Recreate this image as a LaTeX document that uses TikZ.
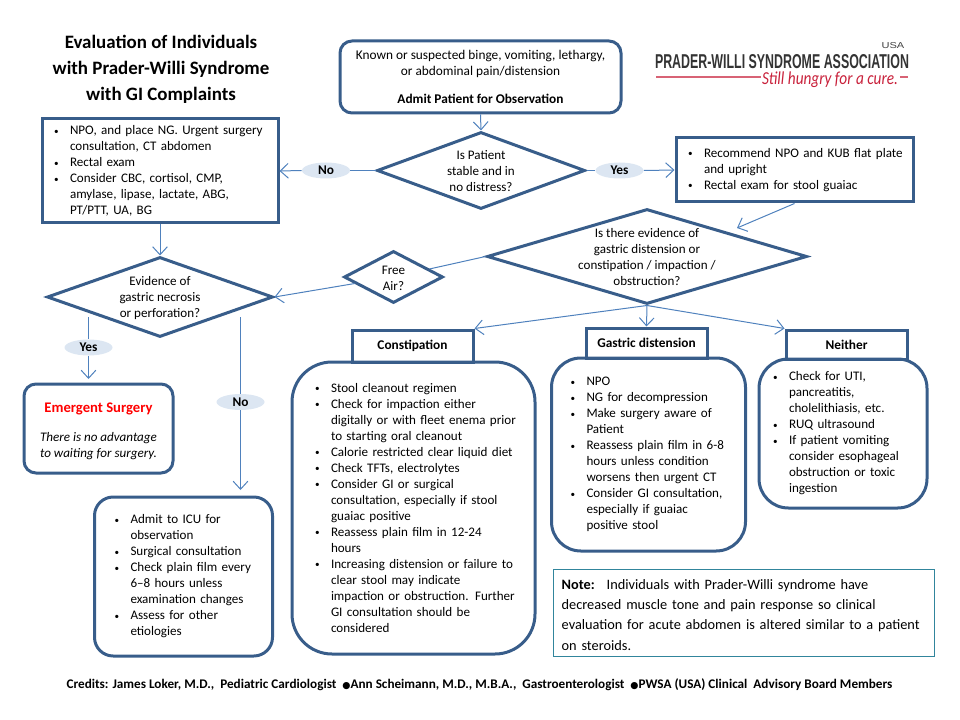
\documentclass[tikz,border=0pt]{standalone}
\usepackage{fontspec}
\usepackage{graphicx}
\setmainfont{Carlito}
\newfontfamily\logofont{Liberation Sans}
\newfontfamily\dotfont{DejaVu Sans}
\usetikzlibrary{arrows.meta,shapes.geometric}
\definecolor{boxblue}{HTML}{385D8A}
\definecolor{linkblue}{HTML}{4F81BD}
\definecolor{pillblue}{HTML}{DCE6F2}
\definecolor{noteblue}{HTML}{31859C}
\definecolor{logored}{HTML}{C8203A}
\newcommand{\itm}[1]{\mbox{\makebox[12pt][l]{\raisebox{0.4pt}{\scalebox{0.7}{\textbullet}}}#1}}
\newcommand{\cnt}[1]{\mbox{\hspace*{12pt}#1}}
\tikzset{
	txt/.style={font=\fontsize{9.8}{12}\selectfont, inner sep=0pt, align=center},
	dmdtxt/.style={txt, yshift=-0.75pt},
	flat/.style={txt, draw=boxblue, line width=2.25pt, align=left},
	round/.style={flat, rounded corners=#1},
	head/.style={flat, align=center, font=\fontsize{10}{12}\selectfont\bfseries},
	dmd/.style={draw=boxblue, line width=2.25pt, shape=diamond, inner sep=0pt, aspect=1},
	pill/.style={ellipse, fill=pillblue, inner sep=0pt, minimum width=36pt, minimum height=12pt, font=\fontsize{10}{12}\selectfont\bfseries},
	link/.style={draw=linkblue, line width=0.75pt},
	arrow/.style={link, -{Straight Barb[length=6pt,width=11pt,line width=0.75pt]}}
}

\begin{document}
\begin{tikzpicture}[x=0.75pt, y=-0.75pt]
	%%%%% START %%%%%
	\useasboundingbox (0, 0) rectangle (960, 720);

	\node[txt, font=\fontsize{14.2}{19.5}\selectfont\bfseries] (title) at (161, 69.5) {Evaluation of Individuals\\with Prader-Willi Syndrome\\with GI Complaints};

	% logo
	\node[inner sep=0pt, text=black!75] (logousa) at (893, 46) {\resizebox{17pt}{4.5pt}{\logofont USA}};
	\node[inner sep=0pt, text=black!80] (logoname) at (782, 62) {\resizebox{190.5pt}{10.5pt}{\logofont\bfseries PRADER-WILLI SYNDROME ASSOCIATION}};
	\node[inner sep=0pt, text=logored] (logotag) at (830, 80) {\resizebox{102pt}{9.5pt}{\itshape Still hungry for a cure.}};
	\coordinate (logoa) at (656, 77);
	\coordinate (logob) at (761, 77);
	\coordinate (logoc) at (900, 77);
	\coordinate (logod) at (908, 77);
	\draw[logored!70, line width=1.2pt] (logoa) -- (logob);
	\draw[logored!70, line width=1.2pt] (logoc) -- (logod);

	% top of the chart
	\node[round=9pt, align=center, minimum width=210.75pt, minimum height=54pt, font=\fontsize{10}{12}\selectfont] (admit) at (480.5, 77) {Known or suspected binge, vomiting, lethargy,\\or abdominal pain/distension\\[9pt]\textbf{Admit Patient for Observation}};

	\node[dmd, minimum width=156pt, minimum height=57.75pt] (stable) at (481, 170.5) {};
	\node[dmdtxt] (stabletxt) at (stable) {Is Patient\\stable and in\\no distress?};

	\node[flat, minimum height=78pt, text width=159pt, inner xsep=9pt] (nobox) at (160, 171) {%
		\itm{NPO, and place NG. Urgent surgery}\\
		\cnt{consultation, CT abdomen}\\
		\itm{Rectal exam}\\
		\itm{Consider CBC, cortisol, CMP,}\\
		\cnt{amylase, lipase, lactate, ABG,}\\
		\cnt{PT/PTT, UA, BG}};

	\node[flat, minimum height=48pt, text width=159.75pt, inner xsep=9pt] (yesbox) at (794.5, 170) {%
		\itm{Recommend NPO and KUB flat plate}\\
		\cnt{and upright}\\
		\itm{Rectal exam for stool guaiac}};

	\node[pill] (noa) at (326, 170.5) {No};
	\node[pill] (yesa) at (619.5, 170.5) {Yes};

	\draw[link] (stable.west) -- (noa.east);
	\draw[arrow] (noa.west) -- (nobox.east);
	\draw[link] (stable.east) -- (yesa.west);
	\draw[arrow] (yesa.east) -- (yesbox.west);
	\draw[arrow] (admit.south) -- (stable.north);

	% second row
	\node[dmd, minimum width=240pt, minimum height=71.25pt] (evid) at (647, 256.5) {};
	\node[dmdtxt] (evidtxt) at (evid) {Is there evidence of\\gastric distension or\\constipation / impaction /\\obstruction?};

	\node[dmd, minimum width=74.25pt, minimum height=39pt] (free) at (393.5, 277) {};
	\node[dmdtxt] (freetxt) at (free) {Free\\Air?};

	\node[dmd, minimum width=169.5pt, minimum height=60pt] (necro) at (160, 297) {};
	\node[dmdtxt] (necrotxt) at (necro) {Evidence of\\gastric necrosis\\or perforation?};

	\coordinate (evidin) at (737, 228);
	\draw[arrow] (yesbox.south) -- (evidin);
	\draw[link] (evid.west) -- (free);
	\draw[arrow] (free) -- (necro.east);
	\draw[arrow] (nobox.south) -- (necro.north);

	% left column
	\node[pill] (yesb) at (88.5, 347.5) {Yes};
	\node[pill] (nob) at (240.5, 402) {No};
	\coordinate (yesout) at (88.5, 317);
	\coordinate (noout) at (240.5, 317);
	\coordinate (yesin) at (88.5, 379);
	\coordinate (noin) at (240.5, 490);

	\node[round=9pt, align=center, minimum width=111.75pt, minimum height=66.75pt] (emerg) at (98.5, 428.5) {%
		\rule{0pt}{11pt}\textcolor{red}{\fontsize{11}{12}\selectfont\bfseries Emergent Surgery}\\[9.5pt]
		\textit{There is no advantage}\\
		\textit{to waiting for surgery.}};

	\node[round=14pt, minimum height=119.25pt, text width=103.5pt, inner xsep=15pt] (icu) at (183.5, 576.5) {%
		\itm{Admit to ICU for}\\
		\cnt{observation}\\
		\itm{Surgical consultation}\\
		\itm{Check plain film every}\\
		\cnt{6--8 hours unless}\\
		\cnt{examination changes}\\
		\itm{Assess for other}\\
		\cnt{etiologies}};

	\draw[link] (yesout) -- (yesb.north);
	\draw[arrow] (yesb.south) -- (yesin);
	\draw[link] (noout) -- (nob.north);
	\draw[arrow] (nob.south) -- (noin);

	% three outcomes
	\node[head, minimum width=90.75pt, minimum height=24pt] (constip) at (412.5, 346) {Constipation};
	\node[head, minimum width=90.75pt, minimum height=22.5pt] (gastric) at (646.5, 343) {Gastric distension};
	\node[head, minimum width=90.75pt, minimum height=21.75pt] (neither) at (846.5, 344.5) {Neither};

	\draw[arrow] (evid.south) -- (constip.north east);
	\draw[arrow] (evid.south) -- (gastric.north);
	\draw[arrow] (evid.south) -- (neither.north west);

	\node[round=30pt, minimum height=219pt, text width=147.75pt, inner xsep=17.25pt] (constipbox) at (413.5, 508) {%
		\itm{Stool cleanout regimen}\\
		\itm{Check for impaction either}\\
		\cnt{digitally or with fleet enema prior}\\
		\cnt{to starting oral cleanout}\\
		\itm{Calorie restricted clear liquid diet}\\
		\itm{Check TFTs, electrolytes}\\
		\itm{Consider GI or surgical}\\
		\cnt{consultation, especially if stool}\\
		\cnt{guaiac positive}\\
		\itm{Reassess plain film in 12-24}\\
		\cnt{hours}\\
		\itm{Increasing distension or failure to}\\
		\cnt{clear stool may indicate}\\
		\cnt{impaction or obstruction. Further}\\
		\cnt{GI consultation should be}\\
		\cnt{considered}};

	\node[round=22pt, minimum height=144.75pt, text width=117pt, inner xsep=14.25pt] (gastricbox) at (648.5, 454.5) {%
		\itm{NPO}\\
		\itm{NG for decompression}\\
		\itm{Make surgery aware of}\\
		\cnt{Patient}\\
		\itm{Reassess plain film in 6-8}\\
		\cnt{hours unless condition}\\
		\cnt{worsens then urgent CT}\\
		\itm{Consider GI consultation,}\\
		\cnt{especially if guaiac}\\
		\cnt{positive stool}};

	\node[round=22pt, minimum height=111.75pt, text width=105pt, inner xsep=10.5pt] (neitherbox) at (843, 433.5) {%
		\itm{Check for UTI,}\\
		\cnt{pancreatitis,}\\
		\cnt{cholelithiasis, etc.}\\
		\itm{RUQ ultrasound}\\
		\itm{If patient vomiting}\\
		\cnt{consider esophageal}\\
		\cnt{obstruction or toxic}\\
		\cnt{ingestion}};

	\node[draw=noteblue, line width=0.75pt, inner xsep=6.5pt, inner ysep=0pt, text width=272.75pt, minimum height=65.25pt, align=left, font=\fontsize{10.75}{15.3}\selectfont] (note) at (743.5, 612.5) {%
		\mbox{\rule{0pt}{11pt}\textbf{Note:} \ Individuals with Prader-Willi syndrome have}\\
		\mbox{decreased muscle tone and pain response so clinical}\\
		\mbox{evaluation for acute abdomen is altered similar to a patient}\\
		\mbox{on steroids.}};

	\node[txt, font=\fontsize{9.9}{12}\selectfont\bfseries] (credits) at (479.5, 685) {Credits: James Loker, M.D., \ Pediatric Cardiologist \ {\dotfont\fontsize{7}{12}\selectfont ●}Ann Scheimann, M.D., M.B.A., \ Gastroenterologist \ {\dotfont\fontsize{7}{12}\selectfont ●}PWSA (USA) Clinical \ Advisory Board Members};
	%%%%% END %%%%%
\end{tikzpicture}
\end{document}
